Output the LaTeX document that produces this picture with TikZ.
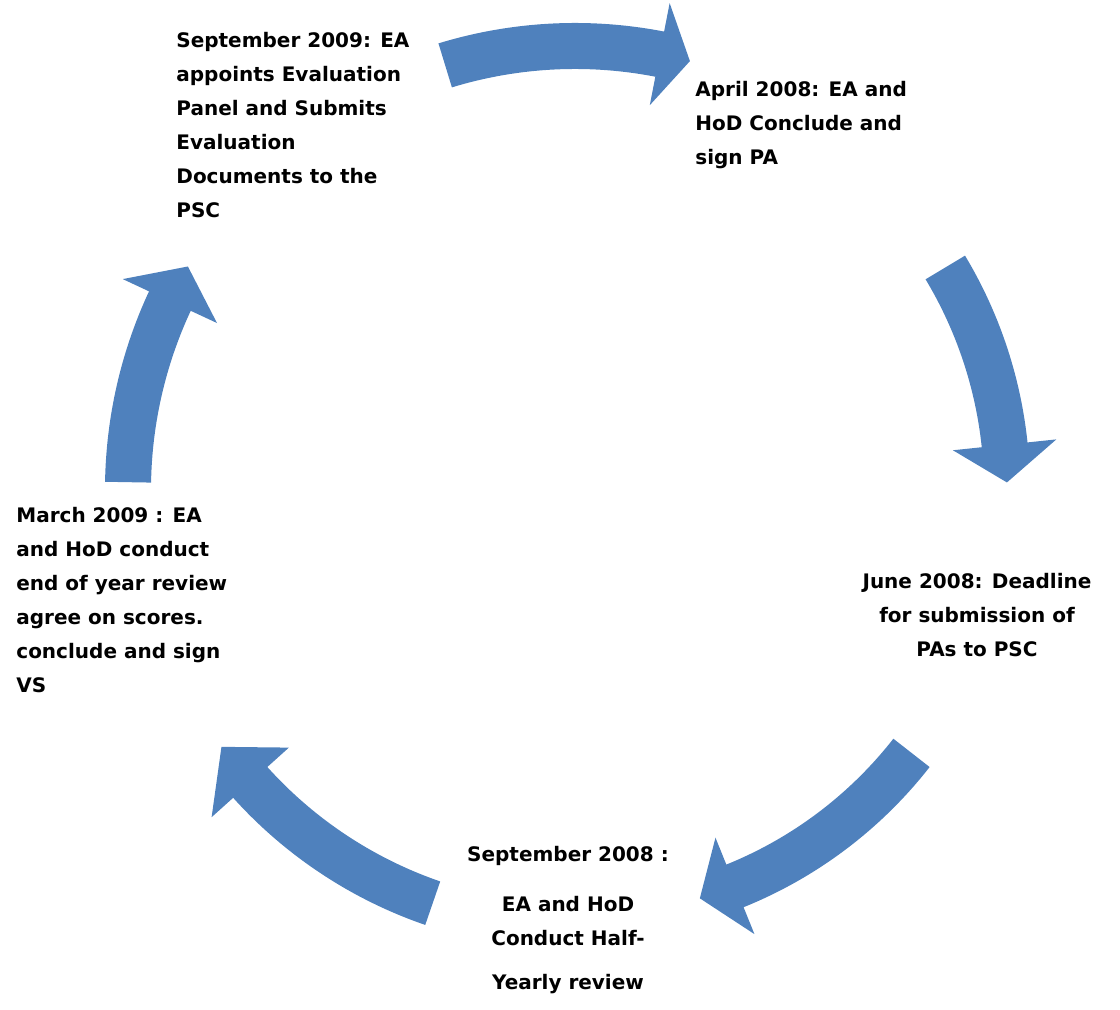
\documentclass[tikz,border=0pt]{standalone}
\usepackage{fontspec}
\setmainfont{DejaVu Sans}
\usetikzlibrary{positioning}
\definecolor{cycleblue}{RGB}{79,129,189}
\tikzset{
stagetext/.style={ % Sets the properties for each text block
font=\fontsize{10}{17}\selectfont\bfseries,
inner sep=0pt},
cyclearrow/.style={ % Sets the properties for each block arrow
fill=cycleblue}}

\begin{document}
\begin{tikzpicture}[x=0.5pt, y=0.5pt]
\useasboundingbox (0,0) rectangle (1120,1010);
\coordinate (hub) at (575,520);
% block arrows round the cycle: tail angle / head angle / tip angle / radius
\foreach \a/\b/\t/\r in {107/79/75/444, 31/6/1/432, -38/-68/-73/427, -109/-138/-144/437, 179/155/150/447}{
\fill[cyclearrow, shift={(hub)}] (\a:\r+23) arc[start angle=\a, end angle=\b, radius=\r+23]
  -- (\b:\r+52) -- (\t:\r) -- (\b:\r-52) -- (\b:\r-23)
  arc[start angle=\b, end angle=\a, radius=\r-23] -- cycle;
}
\node[stagetext, anchor=west, align=left] (sept09) at (176,885)
  {September 2009: EA\\appoints Evaluation\\Panel and Submits\\Evaluation\\Documents to the\\PSC};
\node[stagetext, anchor=west, align=left] (apr08) at (695,885)
  {April 2008: EA and\\HoD Conclude and\\sign PA};
\node[stagetext, align=center] (jun08) at (977,395)
  {June 2008: Deadline\\for submission of\\PAs to PSC};
\node[stagetext, align=center] (sept08) at (568,90)
  {September 2008 :\\[8pt]EA and HoD\\Conduct Half-\\[5pt]Yearly review};
\node[stagetext, anchor=west, align=left] (mar09) at (16,410)
  {March 2009 : EA\\and HoD conduct\\end of year review\\agree on scores.\\conclude and sign\\VS};
\end{tikzpicture}
\end{document}
